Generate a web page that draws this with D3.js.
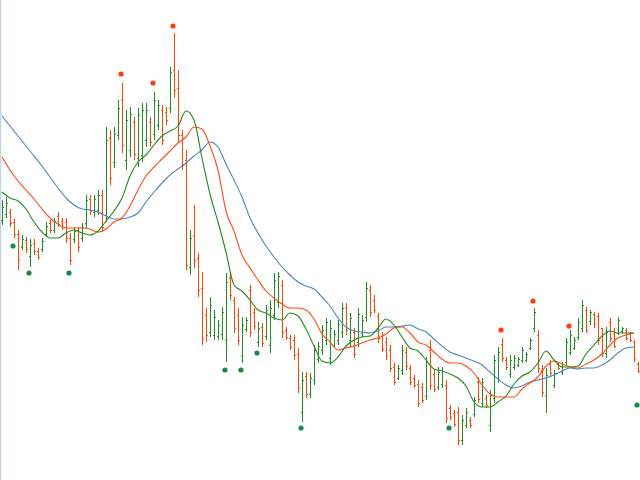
<!DOCTYPE html>
<html>
<head>
<meta charset="utf-8">
<script src="https://cdn.jsdelivr.net/npm/d3@7"></script>
<style>
    html, body { margin: 0; padding: 0; background: #fff; }
    svg { display: block; }
</style>
</head>
<body>
<svg id="chart" width="640" height="480"></svg>
<script>
// price bars, one row per bar: open, high, low, close
let opens = [
    280, 286, 288, 278, 266, 253, 260, 244, 257, 249, 251, 266, 277, 270, 284, 279, 278, 262, 261, 270,
    262, 277, 301, 288, 290, 305, 285, 362, 338, 365, 400, 340, 350, 378, 342, 345, 360, 378, 366, 375,
    390, 388, 392, 430, 412, 365, 340, 233, 265, 242, 212, 185, 168, 165, 164, 166, 160, 222, 200, 185,
    145, 171, 210, 188, 158, 173, 164, 155, 185, 198, 215, 170, 162, 160, 146, 88, 124, 106, 120, 141,
    150, 160, 142, 155, 160, 168, 192, 160, 168, 158, 167, 183, 210, 200, 184, 164, 158, 150, 133, 122,
    130, 148, 132, 122, 116, 113, 104, 150, 126, 113, 116, 115, 92, 87, 88, 60, 75, 80, 86, 118,
    97, 102, 75, 102, 122, 156, 140, 126, 133, 135, 140, 140, 152, 172, 165, 130, 105, 136, 115, 136,
    128, 138, 148, 152, 163, 172, 190, 179, 186, 184, 172, 147, 178, 166, 167, 169, 170, 166, 158, 136
];
let highs = [
    300, 303, 291, 281, 270, 265, 263, 261, 261, 252, 262, 278, 280, 282, 288, 282, 282, 267, 273, 273,
    277, 305, 305, 305, 310, 310, 373, 370, 373, 400, 417, 390, 393, 383, 392, 397, 397, 383, 408, 400,
    395, 393, 433, 467, 430, 370, 350, 270, 295, 247, 228, 192, 203, 190, 180, 193, 227, 227, 203, 192,
    183, 183, 215, 192, 178, 177, 195, 200, 227, 228, 220, 173, 165, 165, 152, 128, 128, 127, 155, 158,
    175, 182, 180, 170, 180, 197, 197, 187, 172, 192, 185, 218, 215, 205, 187, 168, 163, 155, 137, 135,
    155, 153, 135, 125, 120, 117, 143, 160, 130, 133, 133, 120, 95, 90, 93, 85, 92, 83, 103, 123,
    122, 105, 110, 145, 153, 162, 143, 145, 145, 143, 153, 148, 162, 192, 170, 135, 132, 140, 130, 138,
    138, 162, 170, 163, 182, 200, 193, 190, 188, 187, 172, 173, 182, 172, 183, 173, 172, 168, 160, 138
];
let lows = [
    275, 282, 273, 262, 230, 250, 247, 233, 245, 240, 248, 263, 267, 267, 273, 270, 257, 235, 257, 248,
    258, 272, 285, 283, 285, 268, 278, 315, 332, 360, 347, 330, 343, 340, 333, 338, 353, 353, 360, 370,
    355, 375, 387, 402, 358, 330, 230, 225, 232, 203, 155, 158, 163, 160, 160, 160, 138, 200, 167, 155,
    137, 168, 163, 170, 153, 153, 160, 147, 180, 192, 162, 160, 150, 140, 107, 78, 102, 102, 115, 137,
    145, 155, 135, 152, 155, 162, 165, 153, 142, 153, 163, 178, 183, 187, 157, 148, 140, 128, 115, 120,
    125, 130, 115, 112, 93, 97, 100, 110, 108, 110, 112, 77, 80, 73, 55, 55, 72, 72, 83, 97,
    93, 92, 68, 97, 117, 138, 130, 122, 130, 133, 137, 138, 150, 168, 127, 103, 87, 123, 112, 130,
    125, 135, 145, 150, 160, 168, 167, 175, 172, 155, 143, 142, 158, 152, 165, 167, 160, 158, 138, 127
];
let closes = [
    293, 297, 277, 266, 240, 261, 251, 255, 249, 243, 259, 274, 270, 279, 276, 273, 262, 240, 269, 253,
    273, 300, 289, 301, 305, 273, 360, 322, 366, 392, 355, 380, 386, 346, 385, 390, 390, 358, 400, 395,
    360, 380, 428, 410, 365, 335, 235, 262, 240, 210, 162, 165, 195, 183, 175, 188, 218, 205, 172, 160,
    175, 180, 168, 174, 172, 157, 190, 192, 220, 224, 168, 163, 153, 145, 112, 120, 106, 122, 150, 154,
    170, 178, 172, 166, 176, 192, 170, 182, 146, 186, 180, 212, 188, 190, 162, 151, 144, 132, 118, 132,
    150, 134, 118, 115, 97, 100, 138, 115, 111, 128, 129, 82, 83, 76, 60, 80, 88, 75, 100, 101,
    118, 95, 105, 140, 148, 142, 133, 140, 142, 141, 150, 146, 160, 188, 132, 108, 125, 127, 127, 132,
    136, 158, 165, 160, 178, 195, 170, 188, 176, 160, 147, 168, 162, 154, 180, 172, 162, 160, 142, 129
];

// moving averages, read every second bar (bar 0, 2, 4 ... 158)
let maFast = [
    308, 302, 299, 291, 278, 268, 262, 262, 267, 270, 267, 265, 269, 279, 289, 302, 324, 338, 345, 355,
    364, 369, 374, 389, 380, 342, 306, 278, 248, 215, 209, 200, 190, 187, 182, 180, 187, 184, 171, 154,
    139, 137, 143, 154, 160, 163, 164, 172, 181, 175, 163, 152, 149, 140, 131, 129, 126, 122, 114, 98,
    93, 93, 98, 104, 116, 124, 128, 137, 149, 140, 133, 133, 134, 146, 155, 164, 169, 167, 167, 167
];
let maMid = [
    343, 330, 319, 310, 301, 291, 282, 276, 272, 272, 272, 271, 268, 271, 278, 282, 294, 310, 324, 333,
    341, 349, 357, 363, 373, 371, 354, 330, 289, 269, 245, 232, 220, 209, 202, 196, 192, 192, 190, 181,
    166, 158, 150, 152, 154, 157, 160, 162, 166, 172, 173, 167, 158, 155, 148, 141, 137, 137, 134, 127,
    115, 106, 103, 103, 103, 111, 117, 123, 134, 139, 136, 133, 132, 136, 140, 146, 155, 162, 165, 167
];
let maSlow = [
    384, 374, 364, 354, 344, 334, 323, 312, 302, 295, 291, 290, 288, 284, 281, 281, 283, 287, 298, 308,
    317, 325, 331, 337, 344, 350, 358, 353, 336, 320, 303, 282, 267, 254, 243, 233, 225, 218, 214, 211,
    203, 194, 182, 173, 169, 168, 167, 169, 173, 173, 174, 175, 171, 168, 161, 154, 148, 145, 142, 139,
    135, 128, 121, 115, 112, 114, 118, 120, 122, 125, 129, 132, 131, 132, 132, 135, 140, 147, 152, 153
];

// fractal marks: bar index and level
let upBars = [30, 38, 43, 125, 133, 142];
let upLevels = [426, 417, 474, 170, 199, 174];
let downBars = [3, 7, 17, 56, 60, 64, 75, 112, 159];
let downLevels = [254, 227, 227, 130, 130, 147, 72, 72, 95];

let colors = {
    up: '#228b22',
    down: '#ff4500',
    fast: '#1f8a1f',
    mid: '#ff4a14',
    slow: '#4a86c0',
    axis: '#c3d3ea',
};

function drawChart() {
    let width = 640,
        height = 480;
    let svg = d3.select('#chart');
    svg.html('');

    let bars = opens.map((o, i) => ({
        i: i,
        open: o,
        high: highs[i],
        low: lows[i],
        close: closes[i],
    }));

    let x = d3
        .scaleBand()
        .domain(d3.range(bars.length))
        .range([0, width])
        .padding(0);
    let y = d3.scaleLinear().domain([20, 500]).range([height, 0]);

    let cx = (i) => Math.round(x(i) + x.bandwidth() / 2) + 0.5;

    // left border
    svg.append('line')
        .attr('x1', 0.5)
        .attr('x2', 0.5)
        .attr('y1', 0)
        .attr('y2', height)
        .attr('stroke', colors.axis)
        .attr('stroke-width', 1.5);

    let g = svg
        .append('g')
        .attr('class', 'group_bars')
        .attr('shape-rendering', 'crispEdges');

    let bar = g
        .selectAll('g')
        .data(bars)
        .enter()
        .append('g')
        .attr('stroke', (d) => (d.close >= d.open ? colors.up : colors.down))
        .attr('stroke-width', 1);

    bar.append('line')
        .attr('x1', (d) => cx(d.i))
        .attr('x2', (d) => cx(d.i))
        .attr('y1', (d) => Math.round(y(d.high)))
        .attr('y2', (d) => Math.round(y(d.low)));
    bar.append('line')
        .attr('x1', (d) => cx(d.i) - 1.5)
        .attr('x2', (d) => cx(d.i))
        .attr('y1', (d) => Math.round(y(d.open)) + 0.5)
        .attr('y2', (d) => Math.round(y(d.open)) + 0.5);
    bar.append('line')
        .attr('x1', (d) => cx(d.i))
        .attr('x2', (d) => cx(d.i) + 1.5)
        .attr('y1', (d) => Math.round(y(d.close)) + 0.5)
        .attr('y2', (d) => Math.round(y(d.close)) + 0.5);

    // moving averages
    let line = d3
        .line()
        .x((d, k) => x(k * 2) + x.bandwidth() / 2)
        .y((d) => y(d))
        .curve(d3.curveMonotoneX);

    [
        [maSlow, colors.slow],
        [maMid, colors.mid],
        [maFast, colors.fast],
    ].forEach(([values, color]) => {
        svg.append('path')
            .datum(values)
            .attr('fill', 'none')
            .attr('stroke', color)
            .attr('stroke-width', 1.1)
            .attr('d', line);
    });

    // fractals
    svg.append('g')
        .selectAll('circle')
        .data(upBars)
        .enter()
        .append('circle')
        .attr('cx', (d) => x(d) + x.bandwidth() / 2 - 1)
        .attr('cy', (d, k) => y(upLevels[k]))
        .attr('r', 2.6)
        .attr('fill', '#ff3c14');

    svg.append('g')
        .selectAll('circle')
        .data(downBars)
        .enter()
        .append('circle')
        .attr('cx', (d) => x(d) + x.bandwidth() / 2 - 1)
        .attr('cy', (d, k) => y(downLevels[k]))
        .attr('r', 2.6)
        .attr('fill', '#178a4a');
}

drawChart();
</script>
</body>
</html>
